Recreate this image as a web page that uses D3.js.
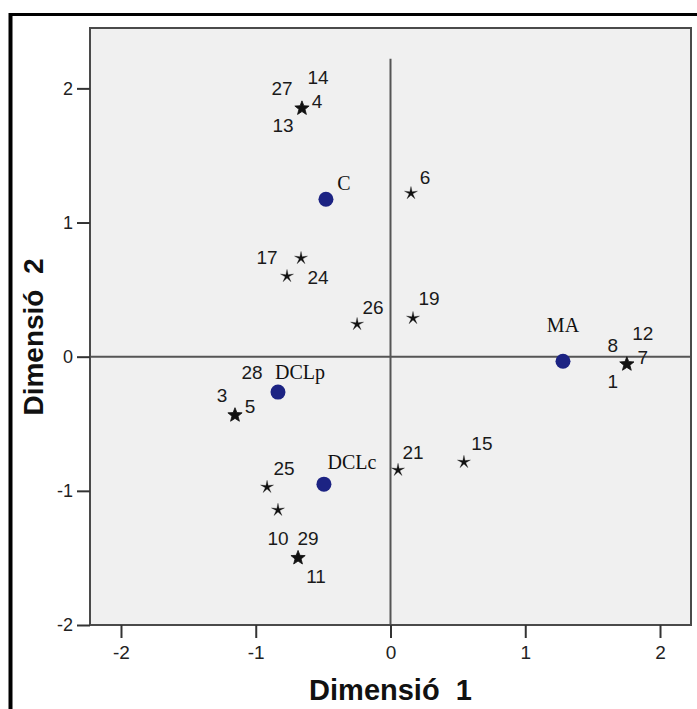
<!DOCTYPE html>
<html>
<head>
<meta charset="utf-8">
<script src="https://cdn.jsdelivr.net/npm/d3@7"></script>
<style>
  html, body { margin: 0; padding: 0; background: #fff; }
  svg { display: block; }
  text { font-family: "Liberation Sans", Arial, sans-serif; }
</style>
</head>
<body>
<svg id="chart" width="697" height="709"></svg>
<script>
// ---- data ----
const xTicks = [-2, -1, 0, 1, 2];
const yTicks = [-2, -1, 0, 1, 2];
const xTitle = "Dimensió  1";
const yTitle = "Dimensió  2";

// object points (stars); count = number of overlapping objects
const objectIds   = ["4,13,14,27", "6", "17", "24", "26", "19", "1,7,8,12", "28", "3,5", "25", "", "10,29,11", "21", "15"];
const objectDim1  = [-0.657, 0.152, -0.664, -0.768, -0.248, 0.167, 1.754, -0.835, -1.154, -0.916, -0.835, -0.686, 0.056, 0.545];
const objectDim2  = [1.851, 1.218, 0.734, 0.600, 0.242, 0.287, -0.056, -0.264, -0.436, -0.972, -1.143, -1.500, -0.845, -0.786];
const objectCount = [4, 1, 1, 1, 1, 1, 4, 1, 2, 1, 1, 3, 1, 1];

// category points (circles)
const categoryNames = ["C", "MA", "DCLp", "DCLc"];
const categoryDim1  = [-0.479, 1.280, -0.835, -0.494];
const categoryDim2  = [1.173, -0.034, -0.264, -0.950];

// ---- label placement (pixels, relative to point) ----
const objectLabelPlacement = [
  [["27", -20, -20], ["14", 16, -31], ["4", 15, -7], ["13", -19, 17]],
  [["6", 14, -16]],
  [["17", -34, -1]],
  [["24", 31, 1]],
  [["26", 16, -17]],
  [["19", 16, -20]],
  [["8", -14, -19], ["12", 16, -31], ["7", 16, -7], ["1", -14, 17]],
  [["28", -26, -20]],
  [["3", -13, -20], ["5", 15, -9]],
  [["25", 17, -19]],
  [],
  [["10", -20, -19], ["29", 10, -19], ["11", 18, 19]],
  [["21", 15, -18]],
  [["15", 18, -19]]
];
const categoryLabelPlacement = [[18, -16], [0, -36], [22, -20], [28, -22]];

// ---- drawing ----
const svg = d3.select("#chart");
const L = 90, R = 691, T = 28, B = 625;
const x = d3.scaleLinear().domain([-2.23, 2.23]).range([L, R]);
const y = d3.scaleLinear().domain([-2, 2.45]).range([B, T]);

// outer frame
svg.append("line").attr("x1", 10.5).attr("x2", 10.5).attr("y1", 13).attr("y2", 709)
  .attr("stroke", "#000").attr("stroke-width", 4);
svg.append("line").attr("x1", 9).attr("x2", 697).attr("y1", 14.5).attr("y2", 14.5)
  .attr("stroke", "#000").attr("stroke-width", 3);

// plot area
svg.append("rect").attr("x", L).attr("y", T).attr("width", R - L).attr("height", B - T)
  .attr("fill", "#f0f0f0");

// reference lines
svg.append("line").attr("x1", L).attr("x2", R).attr("y1", y(0)).attr("y2", y(0))
  .attr("stroke", "#555").attr("stroke-width", 2);
svg.append("line").attr("x1", x(0)).attr("x2", x(0)).attr("y1", y(2.22)).attr("y2", B)
  .attr("stroke", "#555").attr("stroke-width", 2);

svg.append("rect").attr("x", L).attr("y", T).attr("width", R - L).attr("height", B - T)
  .attr("fill", "none").attr("stroke", "#4a4a4a").attr("stroke-width", 2);

// axes
const xAxis = svg.append("g").attr("transform", `translate(0,${B})`)
  .call(d3.axisBottom(x).tickValues(xTicks).tickFormat(d3.format("d")).tickSize(13).tickSizeOuter(0).tickPadding(8));
const yAxis = svg.append("g").attr("transform", `translate(${L},0)`)
  .call(d3.axisLeft(y).tickValues(yTicks).tickFormat(d3.format("d")).tickSize(13).tickSizeOuter(0).tickPadding(4));
[xAxis, yAxis].forEach(g => {
  g.select(".domain").remove();
  g.selectAll(".tick line").attr("stroke", "#333").attr("stroke-width", 2);
  g.selectAll(".tick text").attr("fill", "#222")
    .style("font-family", "'Liberation Sans', Arial, sans-serif");
});
xAxis.selectAll(".tick text").style("font-size", "19px");
yAxis.selectAll(".tick text").style("font-size", "18px");
// use hyphen-minus like reference
svg.selectAll(".tick text").text(function(d) { return String(d); });

// axis titles
svg.append("text").attr("x", x(0)).attr("y", 700).attr("text-anchor", "middle")
  .style("font-size", "29px").style("font-weight", "bold").style("white-space", "pre")
  .attr("fill", "#111").text(xTitle);
svg.append("text").attr("transform", `translate(43,${337}) rotate(-90)`).attr("text-anchor", "middle")
  .style("font-size", "28px").style("font-weight", "bold").style("white-space", "pre")
  .attr("fill", "#111").text(yTitle);

// star path generator
function starPath(rOuter, rInner) {
  const pts = [];
  for (let i = 0; i < 10; i++) {
    const a = -Math.PI / 2 + i * Math.PI / 5;
    const r = i % 2 === 0 ? rOuter : rInner;
    pts.push([r * Math.cos(a), r * Math.sin(a)]);
  }
  return "M" + pts.map(p => p.join(",")).join("L") + "Z";
}

const objects = objectIds.map((id, i) => ({
  id, x: objectDim1[i], y: objectDim2[i], n: objectCount[i], labels: objectLabelPlacement[i]
}));

// stars
svg.append("g").selectAll("path").data(objects).join("path")
  .attr("transform", d => `translate(${x(d.x)},${y(d.y)})`)
  .attr("d", d => d.n > 1 ? starPath(7.5, 3.2) : starPath(6.8, 1.9))
  .attr("fill", "#111")
  .attr("stroke", "#111")
  .attr("stroke-width", d => d.n > 1 ? 0.8 : 0.3);

// category circles
const cats = categoryNames.map((name, i) => ({
  name, x: categoryDim1[i], y: categoryDim2[i], off: categoryLabelPlacement[i]
}));
svg.append("g").selectAll("circle").data(cats).join("circle")
  .attr("cx", d => x(d.x)).attr("cy", d => y(d.y)).attr("r", 7.5)
  .attr("fill", "#1c2383");

// object labels
const labelData = objects.flatMap(o => o.labels.map(l => ({ t: l[0], px: x(o.x) + l[1], py: y(o.y) + l[2] })));
svg.append("g").selectAll("text").data(labelData).join("text")
  .attr("x", d => d.px).attr("y", d => d.py)
  .attr("text-anchor", "middle").attr("dominant-baseline", "central")
  .style("font-size", "19px").attr("fill", "#1a1a1a")
  .text(d => d.t);

// category labels
svg.append("g").selectAll("text").data(cats).join("text")
  .attr("x", d => x(d.x) + d.off[0]).attr("y", d => y(d.y) + d.off[1])
  .attr("text-anchor", "middle").attr("dominant-baseline", "central")
  .style("font-size", "20px").style("font-family", "'Liberation Serif', 'Times New Roman', serif")
  .attr("fill", "#111")
  .text(d => d.name);
</script>
</body>
</html>
